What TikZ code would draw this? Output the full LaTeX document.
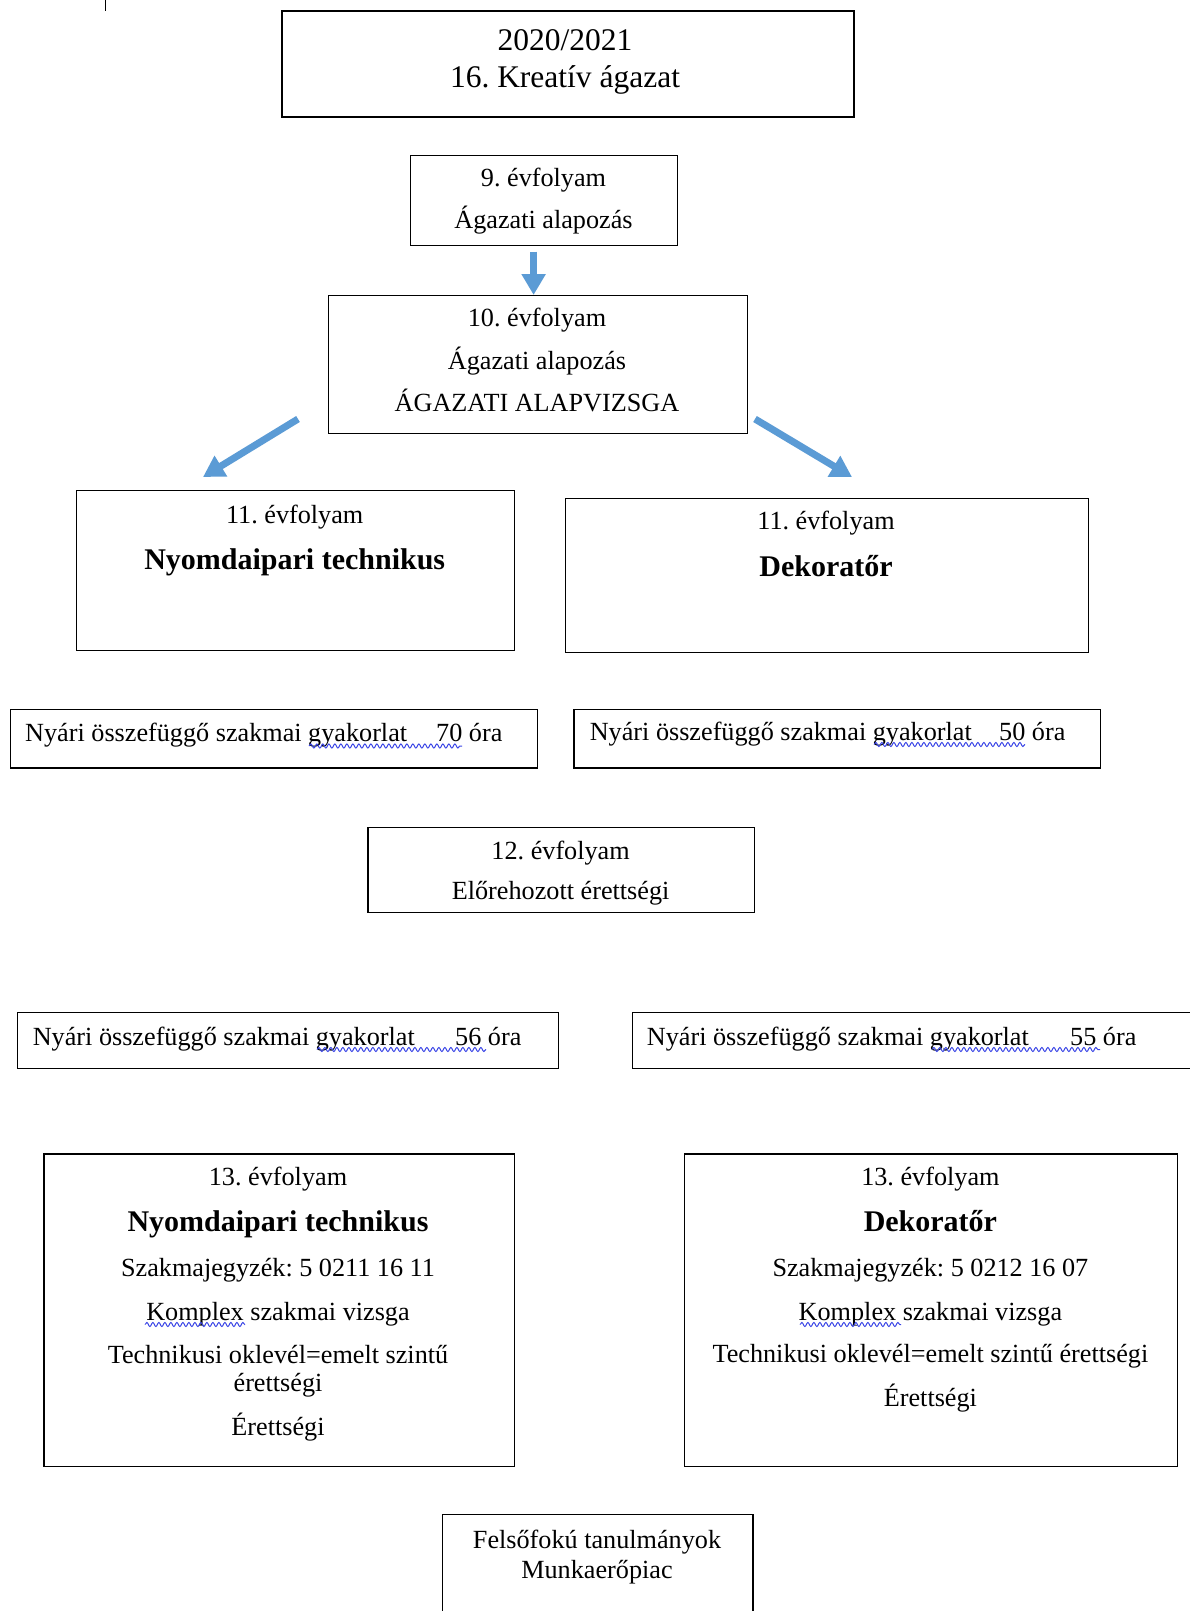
\documentclass[tikz,border=0pt]{standalone}
\usepackage{fontspec}
\setmainfont{Liberation Serif}
\frenchspacing
\usetikzlibrary{arrows.meta,decorations.pathmorphing}
\definecolor{arrowblue}{HTML}{5B9BD5}
\definecolor{wavyblue}{HTML}{3A45E6}
\tikzset{
  boxnode/.style={draw=black, line width=1.3pt, rectangle, inner sep=0pt, anchor=north west},
  txt/.style={anchor=base, inner sep=0pt, font=\fontsize{26.2}{30}\selectfont},
  txtl/.style={anchor=base west, inner sep=0pt, font=\fontsize{26.2}{30}\selectfont},
  btxt/.style={anchor=base, inner sep=0pt, font=\fontsize{30}{34}\selectfont\bfseries},
  ttxt/.style={anchor=base, inner sep=0pt, font=\fontsize{31.5}{36}\selectfont},
  barrow/.style={draw=arrowblue, line width=7pt, -{Triangle[width=23pt,length=21pt]}},
  wavy/.style={draw=wavyblue, line width=1pt, decorate, decoration={snake, amplitude=2pt, segment length=6pt}},
}
\begin{document}
\begin{tikzpicture}[x=1pt,y=-1pt]
\useasboundingbox (0,0) rectangle (1190,1611);
\fill[white] (0,0) rectangle (1190,1611);

% small tick at top left
\draw[line width=1pt] (105.7,0) -- (105.7,11);

% title
\node[boxnode, line width=2pt, minimum width=572pt, minimum height=106pt] (title) at (281,10) {};
\node[ttxt] (t1) at (565,51) {2020/2021};
\node[ttxt] (t2) at (565,87) {16. Kreatív ágazat};

% 9. évfolyam
\node[boxnode, minimum width=267pt, minimum height=90pt] (n9) at (410,155) {};
\node[txt] (n9a) at (543.5,186) {9. évfolyam};
\node[txt] (n9b) at (543.5,228) {Ágazati alapozás};

% 10. évfolyam
\node[boxnode, minimum width=419pt, minimum height=137.5pt] (n10) at (327.5,295) {};
\node[txt] (n10a) at (537,326) {10. évfolyam};
\node[txt] (n10b) at (537,369) {Ágazati alapozás};
\node[txt] (n10c) at (537,411.5) {ÁGAZATI ALAPVIZSGA};

% arrows
\coordinate (a0s) at (533.6,251.7);
\draw[barrow] (a0s) -- (a0s |- n10.north);
\coordinate (a1s) at (298,419);
\coordinate (a1e) at (203,477);
\draw[barrow] (a1s) -- (a1e);
\coordinate (a2s) at (755,419);
\coordinate (a2e) at (852,477);
\draw[barrow] (a2s) -- (a2e);

% 11. évfolyam boxes
\node[boxnode, minimum width=438.5pt, minimum height=159.5pt] (n11a) at (75.5,490) {};
\node[txt] (n11a1) at (294.7,523) {11. évfolyam};
\node[btxt] (n11a2) at (294.7,569) {Nyomdaipari technikus};

\node[boxnode, minimum width=523pt, minimum height=154pt] (n11b) at (564.5,497.7) {};
\node[txt] (n11b1) at (826,529.3) {11. évfolyam};
\node[btxt] (n11b2) at (826,576) {Dekoratőr};

% summer practice after 11
\node[boxnode, minimum width=527pt, minimum height=58.3pt] (s1) at (9.6,709) {};
\node[txtl] (s1a) at (25,741.5) {Nyári összefüggő szakmai gyakorlat};
\node[txtl] (s1b) at (436,741.5) {70 óra};
\draw[wavy] (309,746) -- (462,746);

\node[boxnode, minimum width=526.7pt, minimum height=58.3pt] (s2) at (573.3,709) {};
\node[txtl] (s2a) at (589.6,740) {Nyári összefüggő szakmai gyakorlat};
\node[txtl] (s2b) at (999,740) {50 óra};
\draw[wavy] (874,744.5) -- (1025,744.5);

% 12. évfolyam
\node[boxnode, minimum width=386.7pt, minimum height=84.8pt] (n12) at (367.3,826.7) {};
\node[txt] (n12a) at (560.6,859) {12. évfolyam};
\begin{scope}
\clip (367.3,826.7) rectangle (754,906.5);
\node[txt] (n12b) at (560.6,899) {Előrehozott érettségi};
\end{scope}

% summer practice after 12
\node[boxnode, minimum width=541.3pt, minimum height=55.7pt] (s3) at (16.7,1012) {};
\node[txtl] (s3a) at (32.6,1045) {Nyári összefüggő szakmai gyakorlat};
\node[txtl] (s3b) at (455,1045) {56 óra};
\draw[wavy] (317,1049.5) -- (486,1049.5);

\node[boxnode, minimum width=568.5pt, minimum height=55.7pt] (s4) at (631.5,1012) {};
\node[txtl] (s4a) at (646.7,1045) {Nyári összefüggő szakmai gyakorlat};
\node[txtl] (s4b) at (1070,1045) {55 óra};
\draw[wavy] (932,1049.5) -- (1100,1049.5);

% 13. évfolyam boxes
\node[boxnode, minimum width=470.8pt, minimum height=312.7pt] (n13a) at (43.2,1153.3) {};
\node[txt] (n13a1) at (278,1185) {13. évfolyam};
\node[btxt] (n13a2) at (278,1231.7) {Nyomdaipari technikus};
\node[txt] (n13a3) at (278,1276.7) {Szakmajegyzék: 5 0211 16 11};
\node[txt] (n13a4) at (278,1320) {Komplex szakmai vizsga};
\draw[wavy] (145,1324.5) -- (245,1324.5);
\node[txt] (n13a5) at (278,1363.3) {Technikusi oklevél=emelt szintű};
\node[txt] (n13a6) at (278,1391.7) {érettségi};
\node[txt] (n13a7) at (278,1435) {Érettségi};

\node[boxnode, minimum width=493.2pt, minimum height=312.7pt] (n13b) at (683.8,1153.3) {};
\node[txt] (n13b1) at (930.4,1185) {13. évfolyam};
\node[btxt] (n13b2) at (930.4,1231.7) {Dekoratőr};
\node[txt] (n13b3) at (930.4,1276.7) {Szakmajegyzék: 5 0212 16 07};
\node[txt] (n13b4) at (930.4,1320) {Komplex szakmai vizsga};
\draw[wavy] (800,1324.5) -- (901,1324.5);
\node[txt] (n13b5) at (930.4,1362.3) {Technikusi oklevél=emelt szintű érettségi};
\node[txt] (n13b6) at (930.4,1406.7) {Érettségi};

% final box
\node[boxnode, minimum width=310.6pt, minimum height=140pt] (fin) at (441.7,1513.5) {};
\node[txt] (fin1) at (597,1548.3) {Felsőfokú tanulmányok};
\node[txt] (fin2) at (597,1578.3) {Munkaerőpiac};
\end{tikzpicture}
\end{document}
